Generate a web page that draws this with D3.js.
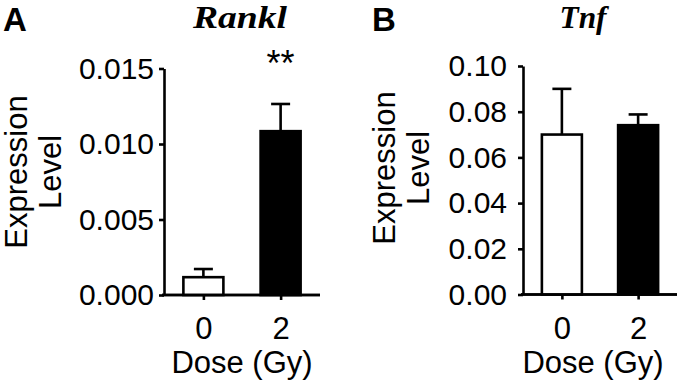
<!DOCTYPE html>
<html>
<head>
<meta charset="utf-8">
<script src="https://cdn.jsdelivr.net/npm/d3@7"></script>
<style>
  body { margin: 0; background: #fff; }
  svg { display: block; }
  text { fill: #000; }
</style>
</head>
<body>
<svg width="680" height="384"></svg>
<script>
// values
var doses = ['0', '2'];
var ranklMean = [0.00118, 0.01085];
var ranklSem = [0.00054, 0.00180];
var ranklTicks = [0, 0.005, 0.010, 0.015];
var tnfMean = [0.0700, 0.0741];
var tnfSem = [0.0200, 0.0047];
var tnfTicks = [0, 0.02, 0.04, 0.06, 0.08, 0.10];
var barFills = ['#fff', '#000'];

var svg = d3.select('svg');
var sans = 'Liberation Sans, Arial, Helvetica, sans-serif';
var serif = 'Liberation Serif, Times New Roman, serif';
var lw = 2.6;

var panel = function(p) {
	var g = svg.append('g');

	var yscale = d3.scaleLinear()
		.domain([0, p.ticks[p.ticks.length - 1]])
		.range([p.yBot, p.yTop]);

	var xscale = d3.scalePoint()
		.domain(doses)
		.range([p.x0, p.x1])
		.padding(0.51);

	// y axis
	var ya = g.append('g')
		.attr('transform', `translate(${p.x0},0)`)
		.call(d3.axisLeft(yscale)
			.tickValues(p.ticks)
			.tickFormat(d3.format(p.fmt))
			.tickSize(5)
			.tickSizeOuter(0)
			.tickPadding(p.pad));
	ya.selectAll('text').style('font-family', sans).style('font-size', '30px');

	// x axis
	var xa = g.append('g')
		.attr('transform', `translate(0,${p.yBot})`)
		.call(d3.axisBottom(xscale)
			.tickSize(5)
			.tickSizeOuter(0)
			.tickPadding(17));
	xa.selectAll('text').style('font-family', sans).style('font-size', '31px');
	xa.select('.domain').attr('d', `M${p.x0 - 2},0H${p.x1}`);

	g.selectAll('.domain, .tick line')
		.attr('stroke', '#000')
		.attr('stroke-width', lw);

	// error bars (upper only), drawn under the bars
	var bw = 40, cap = 19;
	g.selectAll('line.err')
		.data(p.mean)
		.enter()
		.append('line')
		.attr('class', 'err')
		.attr('x1', (d, i) => xscale(doses[i]))
		.attr('x2', (d, i) => xscale(doses[i]))
		.attr('y1', d => yscale(d))
		.attr('y2', (d, i) => yscale(d + p.sem[i]))
		.attr('stroke', '#000')
		.attr('stroke-width', lw);
	g.selectAll('line.cap')
		.data(p.mean)
		.enter()
		.append('line')
		.attr('class', 'cap')
		.attr('x1', (d, i) => xscale(doses[i]) - cap / 2)
		.attr('x2', (d, i) => xscale(doses[i]) + cap / 2)
		.attr('y1', (d, i) => yscale(d + p.sem[i]))
		.attr('y2', (d, i) => yscale(d + p.sem[i]))
		.attr('stroke', '#000')
		.attr('stroke-width', lw);

	g.selectAll('rect')
		.data(p.mean)
		.enter()
		.append('rect')
		.attr('x', (d, i) => xscale(doses[i]) - bw / 2)
		.attr('y', d => yscale(d))
		.attr('width', bw)
		.attr('height', d => p.yBot - yscale(d))
		.attr('fill', (d, i) => barFills[i])
		.attr('stroke', '#000')
		.attr('stroke-width', lw);

	// redraw x axis line over bar bottoms
	g.append('path')
		.attr('d', `M${p.x0 - 2},${p.yBot}H${p.x1}`)
		.attr('stroke', '#000')
		.attr('stroke-width', lw);

	// axis titles
	var yt = g.append('text')
		.attr('transform', `translate(${p.ytX},${p.ytY}) rotate(-90)`)
		.attr('text-anchor', 'middle')
		.style('font-family', sans)
		.style('font-size', '31px');
	yt.append('tspan').attr('x', 0).attr('y', 0).text('Expression');
	yt.append('tspan').attr('x', 0).attr('y', 34).text('Level');

	g.append('text')
		.attr('x', p.xtX)
		.attr('y', 373)
		.attr('text-anchor', 'middle')
		.style('font-family', sans)
		.style('font-size', '31px')
		.text('Dose (Gy)');

	// panel letter and gene title
	g.append('text')
		.attr('x', p.letterX)
		.attr('y', 31)
		.style('font-family', sans)
		.style('font-weight', 'bold')
		.style('font-size', '33px')
		.text(p.letter);

	var t = g.append('text')
		.attr('x', p.titleX)
		.attr('y', 28)
		.attr('text-anchor', 'middle')
		.style('font-family', serif)
		.style('font-weight', 'bold')
		.style('font-style', 'italic')
		.style('font-size', '31px')
		.text(p.title);
	if (p.titleLen) t.attr('textLength', p.titleLen).attr('lengthAdjust', 'spacingAndGlyphs');

	if (p.star) {
		g.append('text')
			.attr('x', xscale(doses[p.star.i]))
			.attr('y', 76)
			.attr('text-anchor', 'middle')
			.style('font-family', sans)
			.style('font-size', '36px')
			.text(p.star.label);
	}
};

panel({
	mean: ranklMean, sem: ranklSem, ticks: ranklTicks, fmt: '.3f', pad: 5,
	x0: 164, x1: 320, yTop: 68.5, yBot: 295,
	ytX: 27, ytY: 172, xtX: 242,
	letter: 'A', letterX: 3, title: 'Rankl', titleX: 240, titleLen: 94,
	star: {i: 1, label: '**'}
});

panel({
	mean: tnfMean, sem: tnfSem, ticks: tnfTicks, fmt: '.2f', pad: 11,
	x0: 523, x1: 677, yTop: 66, yBot: 294.5,
	ytX: 395, ytY: 168, xtX: 593,
	letter: 'B', letterX: 372, title: 'Tnf', titleX: 583, titleLen: 47
});
</script>
</body>
</html>
